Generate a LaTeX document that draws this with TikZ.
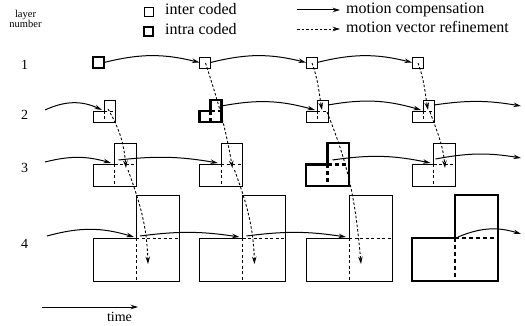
\documentclass[tikz,border=0pt]{standalone}
\usepackage{fontspec}
\setmainfont{Liberation Serif}
\usetikzlibrary{arrows.meta}
\tikzset{
  thinbox/.style={line width=0.85pt, line join=miter},
  thickbox/.style={line width=2.5pt, line join=miter},
  thindiv/.style={line width=0.85pt, dash pattern=on 3pt off 2.5pt},
  thickdiv/.style={line width=2.5pt, dash pattern=on 4pt off 3pt},
  mc/.style={line width=1pt, -{Stealth[length=7.5pt,width=4.5pt]}},
  mvr/.style={line width=0.9pt, dash pattern=on 2.5pt off 2pt, -{Stealth[length=7.5pt,width=4.5pt]}},
  legtext/.style={font=\fontsize{16}{18}\selectfont, anchor=base west, inner sep=0pt},
  laynum/.style={font=\fontsize{14}{16}\selectfont, anchor=base, inner sep=0pt},
}
% L-shaped block: #1 name, #2 left x, #3 top y, #4 quadrant size, #5 thin/thick
\newcommand\Lsh[5]{%
  \draw[#5box] (#2+#4,#3) -- (#2+2*#4,#3) -- (#2+2*#4,#3+2*#4) -- (#2,#3+2*#4)
     -- (#2,#3+#4) -- (#2+#4,#3+#4) -- cycle;
  \draw[#5div] (#2+#4,#3+#4) -- (#2+2*#4,#3+#4);
  \draw[#5div] (#2+#4,#3+#4) -- (#2+#4,#3+2*#4);
  \coordinate (#1) at (#2+#4,#3+#4);
}
\begin{document}
\begin{tikzpicture}[x=1pt,y=-1pt]
\useasboundingbox (0,0) rectangle (525,326);

% ---------- legend ----------
\draw[thinbox] (144,7) rectangle (153,16);
\draw[thickbox] (144,27) rectangle (153,36);
\node[legtext] (lgInter) at (165,15) {inter coded};
\node[legtext] (lgIntra) at (165,35) {intra coded};
\coordinate (lgMCa) at (297,10); \coordinate (lgMCb) at (340,10);
\coordinate (lgMVa) at (297,29); \coordinate (lgMVb) at (340,29);
\draw[mc] (lgMCa) -- (lgMCb);
\draw[mvr] (lgMVa) -- (lgMVb);
\node[legtext] (lgMC) at (346,14) {motion compensation};
\node[legtext] (lgMV) at (346,33) {motion vector refinement};

% ---------- layer labels ----------
\node[font=\fontsize{10.5}{9}\selectfont, align=center, inner sep=0pt, anchor=base] (layerlbl) at (25.5,28) {layer\\number};
\node[laynum] (n1) at (24.5,70) {1};
\node[laynum] (n2) at (24.5,120) {2};
\node[laynum] (n3) at (24.5,172) {3};
\node[laynum] (n4) at (24.5,248) {4};

% ---------- layer 1 squares ----------
\draw[thickbox] (93,57) rectangle (104,68);
\draw[thinbox] (199.5,57) rectangle (210.5,68);
\draw[thinbox] (306,57) rectangle (317,68);
\draw[thinbox] (412,57) rectangle (423,68);

% ---------- layers 2..4 ----------
\Lsh{Ba}{93}{100}{11}{thin}
\Lsh{Bb}{199.5}{100}{11}{thick}
\Lsh{Bc}{306}{100}{11}{thin}
\Lsh{Bd}{412}{100}{11}{thin}

\Lsh{Ca}{93}{143}{21.5}{thin}
\Lsh{Cb}{199.5}{143}{21.5}{thin}
\Lsh{Cc}{306}{143}{21.5}{thick}
\Lsh{Cd}{412}{143}{21.5}{thin}

\Lsh{Da}{93}{195}{43}{thin}
\Lsh{Db}{199.5}{195}{43}{thin}
\Lsh{Dc}{306}{195}{43}{thin}
\Lsh{Dd}{412}{195}{43}{thick}

% ---------- motion compensation: layer 1 ----------
\coordinate (a1o) at (104,62.5);   \coordinate (b1i) at (199.5,62.5);
\coordinate (b1o) at (210.5,62.5); \coordinate (c1i) at (306,62.5);
\coordinate (c1o) at (317,62.5);   \coordinate (d1i) at (412,62.5);
\draw[mc] (a1o) to[bend left=14] (b1i);
\draw[mc] (b1o) to[bend left=14] (c1i);
\draw[mc] (c1o) to[bend left=14] (d1i);

% ---------- layer 2 ----------
\coordinate (in2) at (45,110);   \coordinate (a2i) at (102,110);
\coordinate (b2o) at (221.5,106);\coordinate (c2i) at (315,110);
\coordinate (c2o) at (328,105);  \coordinate (d2i) at (421,110);
\coordinate (d2o) at (434,105);  \coordinate (out2) at (521,106);
\draw[mc] (in2) to[bend left=25] (a2i);
\draw[mc] (b2o) to[bend left=13] (c2i);
\draw[mc] (c2o) to[bend left=13] (d2i);
\draw[mc] (d2o) to[bend left=9] (out2);

% ---------- layer 3 ----------
\coordinate (in3) at (45,162);   \coordinate (a3i) at (111,163);
\coordinate (a3o) at (118.5,160);\coordinate (b3i) at (218,163);
\coordinate (c3o) at (332.5,160);\coordinate (d3i) at (430.5,163);
\coordinate (d3o) at (435.5,159);\coordinate (out3) at (521,158);
\draw[mc] (in3) to[bend left=15] (a3i);
\draw[mc] (a3o) to[bend left=8] (b3i);
\draw[mc] (c3o) to[bend left=10] (d3i);
\draw[mc] (d3o) to[bend left=10] (out3);

% ---------- layer 4 ----------
\coordinate (in4) at (47,236);   \coordinate (a4i) at (134,237);
\coordinate (a4o) at (140,236);  \coordinate (b4i) at (239.5,237);
\coordinate (b4o) at (246.5,236);\coordinate (c4i) at (346,237);
\coordinate (d4o) at (458,237);  \coordinate (out4) at (521,234);
\draw[mc] (in4) to[bend left=16] (a4i);
\draw[mc] (a4o) to[bend left=8] (b4i);
\draw[mc] (b4o) to[bend left=8] (c4i);
\draw[mc] (d4o) to[bend left=20] (out4);

% ---------- motion vector refinement ----------
\coordinate (ra2) at (108,109);   \coordinate (ra3) at (126,168);
\coordinate (ra3s) at (128,170);  \coordinate (ra4) at (148,264);
\coordinate (rb1) at (205.5,63);  \coordinate (rb3) at (232.5,168);
\coordinate (rb3s) at (234.5,170);\coordinate (rb4) at (254.5,264);
\coordinate (rc1) at (312,63);    \coordinate (rc2) at (322,110);
\coordinate (rc2s) at (327,112);  \coordinate (rc4) at (361,264);
\coordinate (rd1) at (418,63);    \coordinate (rd2) at (428,110);
\coordinate (rd2s) at (430,112);  \coordinate (rd3) at (445,168);
\draw[mvr] (ra2) to[out=-60,in=95] (ra3);
\draw[mvr] (ra3s) to[out=-70,in=92] (ra4);
\draw[mvr] (rb1) to[out=-72,in=100] (rb3);
\draw[mvr] (rb3s) to[out=-70,in=92] (rb4);
\draw[mvr] (rc1) to[out=-70,in=100] (rc2);
\draw[mvr] (rc2s) to[out=-68,in=95] (rc4);
\draw[mvr] (rd1) to[out=-70,in=100] (rd2);
\draw[mvr] (rd2s) to[out=-70,in=95] (rd3);

% ---------- time axis ----------
\coordinate (t0) at (42,307); \coordinate (t1) at (138,307);
\draw[mc] (t0) -- (t1);
\node[font=\fontsize{14}{16}\selectfont, anchor=base, inner sep=0pt] (timelbl) at (119.5,321) {time};
\end{tikzpicture}
\end{document}
